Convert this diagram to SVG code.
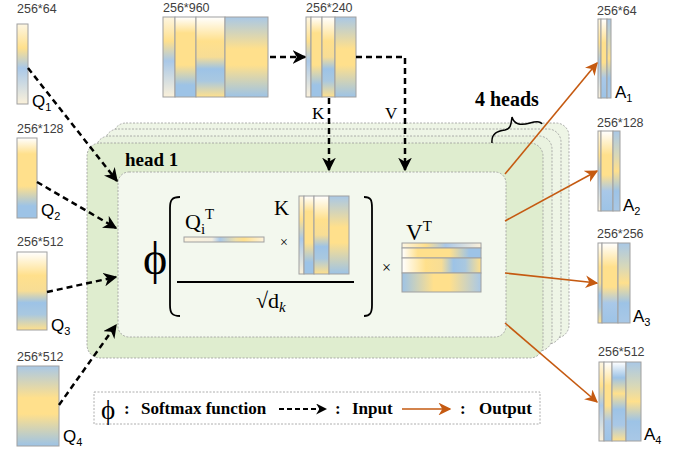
<svg xmlns="http://www.w3.org/2000/svg" width="684" height="453" viewBox="0 0 684 453">
<defs>
  <linearGradient id="g1" x1="0" y1="0" x2="0" y2="1">
    <stop offset="0" stop-color="#fdf6e3"/><stop offset="0.3" stop-color="#ffe08c"/><stop offset="0.55" stop-color="#a9c8e8"/><stop offset="1" stop-color="#fbf1da"/>
  </linearGradient>
  <linearGradient id="g2" x1="0" y1="0" x2="0" y2="1">
    <stop offset="0" stop-color="#ffffff"/><stop offset="0.2" stop-color="#ffe08c"/><stop offset="0.6" stop-color="#ffe08c"/><stop offset="0.85" stop-color="#9dc3e6"/><stop offset="1" stop-color="#9dc3e6"/>
  </linearGradient>
  <linearGradient id="g3" x1="0" y1="0" x2="0" y2="1">
    <stop offset="0" stop-color="#ffffff"/><stop offset="0.3" stop-color="#ffe08c"/><stop offset="0.5" stop-color="#f7dd95"/><stop offset="0.65" stop-color="#9dc3e6"/><stop offset="0.8" stop-color="#a9c8e0"/><stop offset="1" stop-color="#ffe08c"/>
  </linearGradient>
  <linearGradient id="g4" x1="0" y1="0" x2="0" y2="1">
    <stop offset="0" stop-color="#a9c8e6"/><stop offset="0.4" stop-color="#ffe08c"/><stop offset="0.6" stop-color="#ffe08c"/><stop offset="1" stop-color="#9dc3e6"/>
  </linearGradient>
  <linearGradient id="h1" href="#g1" x1="0" y1="0" x2="1" y2="0"/>
  <linearGradient id="h2" href="#g2" x1="0" y1="0" x2="1" y2="0"/>
  <linearGradient id="h3" href="#g3" x1="0" y1="0" x2="1" y2="0"/>
  <linearGradient id="h4" href="#g4" x1="1" y1="0" x2="0" y2="0"/>
  <linearGradient id="qbar" x1="0" y1="0" x2="1" y2="0">
    <stop offset="0" stop-color="#fdf3dc"/><stop offset="0.35" stop-color="#f3eee0"/><stop offset="0.45" stop-color="#a9c8e8"/><stop offset="0.65" stop-color="#f0e0a8"/><stop offset="0.75" stop-color="#ffe08c"/><stop offset="1" stop-color="#fdf3dc"/>
  </linearGradient>
  <linearGradient id="a1" x1="0" y1="0" x2="0" y2="1">
    <stop offset="0" stop-color="#ffffff"/><stop offset="0.3" stop-color="#ffe08c"/><stop offset="0.55" stop-color="#ffe08c"/><stop offset="0.75" stop-color="#a9c8e8"/><stop offset="1" stop-color="#9dc3e6"/>
  </linearGradient>
  <linearGradient id="a2" x1="0" y1="0" x2="0" y2="1">
    <stop offset="0" stop-color="#a9c8e6"/><stop offset="0.3" stop-color="#d8d8b8"/><stop offset="0.5" stop-color="#ffe08c"/><stop offset="0.75" stop-color="#9dc3e6"/><stop offset="1" stop-color="#a9c8e6"/>
  </linearGradient>
  <linearGradient id="a3" x1="0" y1="0" x2="0" y2="1">
    <stop offset="0" stop-color="#ffffff"/><stop offset="0.2" stop-color="#9dc3e6"/><stop offset="0.4" stop-color="#ffe08c"/><stop offset="0.6" stop-color="#9dc3e6"/><stop offset="0.8" stop-color="#a9c8e6"/><stop offset="1" stop-color="#ffe08c"/>
  </linearGradient>
  <marker id="ab" viewBox="0 0 10 10" refX="9" refY="5" markerWidth="5.5" markerHeight="5.5" orient="auto" markerUnits="strokeWidth">
    <path d="M0,0 L10,5 L0,10 L3,5 z" fill="#000"/>
  </marker>
  <marker id="ao" viewBox="0 0 10 10" refX="9" refY="5" markerWidth="8" markerHeight="8" orient="auto" markerUnits="strokeWidth">
    <path d="M0,0 L10,5 L0,10 L3,5 z" fill="#c55a11"/>
  </marker>
</defs>
<style>
  .dim{font-family:"Liberation Sans",Arial,sans-serif;font-size:12.5px;fill:#404040}
  .lab{font-family:"Liberation Sans",Arial,sans-serif;font-size:17px;fill:#000}
  .sub{font-size:11px}
  .ser{font-family:"Liberation Serif","Times New Roman",serif;fill:#000}
  .bold{font-weight:bold}
  .mx{stroke:#a0a0a0;stroke-width:1}
  .layer{stroke:#999;stroke-width:0.8;stroke-dasharray:2 1.5}
  .din{fill:none;stroke:#000;stroke-width:2.5;stroke-dasharray:6 4;marker-end:url(#ab)}
  .out{fill:none;stroke:#c55a11;stroke-width:1.6;marker-end:url(#ao)}
  .leg{font-size:17px}
</style>
<rect width="684" height="453" fill="#fff"/>

<g id="heads">
  <rect class="layer" x="113" y="123" width="456" height="215" rx="13" fill="#eef5e6"/>
  <rect class="layer" x="105" y="129" width="456" height="215" rx="13" fill="#eef5e6"/>
  <rect class="layer" x="96" y="136" width="456" height="215" rx="13" fill="#e9f2df"/>
  <rect class="layer" x="87" y="143" width="456" height="215" rx="13" fill="#dfedcf"/>
  <text class="ser bold" x="125" y="166" font-size="19">head 1</text>
  <rect class="layer" x="118" y="172" width="388" height="165" rx="11" fill="#f3f8ee"/>
</g>

<g id="formula">
  <text class="ser" x="143" y="274" font-size="46">ϕ</text>
  <path d="M180,197 C172,197 170,200 170,208 L170,305 C170,313 172,316 180,316" fill="none" stroke="#000" stroke-width="1.8"/>
  <path d="M364,197 C371,197 372,200 372,208 L372,305 C372,313 370,316 364,316" fill="none" stroke="#000" stroke-width="1.8"/>
  <text class="ser" x="185" y="229" font-size="22">Q<tspan font-size="15" dy="5">i</tspan><tspan font-size="15" dy="-15">T</tspan></text>
  <rect class="mx" x="184" y="237" width="80" height="5" fill="url(#qbar)"/>
  <text class="ser" x="280" y="247" font-size="14">×</text>
  <text class="ser" x="274" y="215" font-size="21">K</text>
  <g class="mx">
    <rect x="299" y="196" width="5" height="78" fill="url(#g1)"/>
    <rect x="304" y="196" width="10" height="78" fill="url(#g2)"/>
    <rect x="314" y="196" width="15" height="78" fill="url(#g3)"/>
    <rect x="329" y="196" width="20" height="78" fill="url(#g4)"/>
  </g>
  <line x1="177" y1="282" x2="354" y2="282" stroke="#000" stroke-width="1.8"/>
  <text class="ser" x="256" y="308" font-size="22">√d<tspan font-size="15" dy="4" font-style="italic">k</tspan></text>
  <text class="ser" x="382" y="273" font-size="16">×</text>
  <text class="ser" x="406" y="240" font-size="23">V<tspan font-size="15" dy="-9">T</tspan></text>
  <g class="mx">
    <rect x="402" y="243" width="79" height="5" fill="url(#h1)"/>
    <rect x="402" y="248" width="79" height="10" fill="url(#h2)"/>
    <rect x="402" y="258" width="79" height="15" fill="url(#h3)"/>
    <rect x="402" y="273" width="79" height="19" fill="url(#h4)"/>
  </g>
</g>

<g id="W960">
  <text class="dim" x="163" y="12">256*960</text>
  <g class="mx">
    <rect x="163" y="17" width="12" height="80" fill="url(#g1)"/>
    <rect x="175" y="17" width="21" height="80" fill="url(#g2)"/>
    <rect x="196" y="17" width="29" height="80" fill="url(#g3)"/>
    <rect x="225" y="17" width="43" height="80" fill="url(#g4)"/>
  </g>
</g>
<g id="W240">
  <text class="dim" x="306" y="12">256*240</text>
  <g class="mx">
    <rect x="306" y="17" width="5" height="80" fill="url(#g1)"/>
    <rect x="311" y="17" width="11" height="80" fill="url(#g2)"/>
    <rect x="322" y="17" width="13" height="80" fill="url(#g3)"/>
    <rect x="335" y="17" width="21" height="80" fill="url(#g4)"/>
  </g>
  <text class="ser" x="312" y="119" font-size="17">K</text>
  <text class="ser" x="385" y="119" font-size="17">V</text>
</g>

<g id="Q1">
  <text class="dim" x="17" y="13">256*64</text>
  <rect class="mx" x="17" y="24" width="11" height="80" fill="url(#g1)"/>
  <text class="lab" x="32" y="107">Q<tspan class="sub" dy="4">1</tspan></text>
</g>
<g id="Q2">
  <text class="dim" x="17" y="133">256*128</text>
  <rect class="mx" x="17" y="138" width="20" height="80" fill="url(#g2)"/>
  <text class="lab" x="41" y="216">Q<tspan class="sub" dy="4">2</tspan></text>
</g>
<g id="Q3">
  <text class="dim" x="17" y="246">256*512</text>
  <rect class="mx" x="17" y="252" width="30" height="78" fill="url(#g3)"/>
  <text class="lab" x="51" y="331">Q<tspan class="sub" dy="4">3</tspan></text>
</g>
<g id="Q4">
  <text class="dim" x="17" y="361">256*512</text>
  <rect class="mx" x="17" y="366" width="42" height="80" fill="url(#g4)"/>
  <text class="lab" x="63" y="442">Q<tspan class="sub" dy="4">4</tspan></text>
</g>

<g id="A1">
  <text class="dim" x="597" y="15">256*64</text>
  <g class="mx">
    <rect x="598" y="19" width="3" height="79" fill="url(#g1)"/>
    <rect x="601" y="19" width="6" height="79" fill="url(#a1)"/>
    <rect x="607" y="19" width="4" height="79" fill="url(#a2)"/>
  </g>
  <text class="lab" x="615" y="98">A<tspan class="sub" dy="4">1</tspan></text>
</g>
<g id="A2">
  <text class="dim" x="597" y="127">256*128</text>
  <g class="mx">
    <rect x="598" y="131" width="3" height="80" fill="url(#g1)"/>
    <rect x="601" y="131" width="12" height="80" fill="url(#a1)"/>
    <rect x="613" y="131" width="7" height="80" fill="url(#a2)"/>
  </g>
  <text class="lab" x="623" y="211">A<tspan class="sub" dy="4">2</tspan></text>
</g>
<g id="A3">
  <text class="dim" x="597" y="238">256*256</text>
  <g class="mx">
    <rect x="598" y="243" width="4" height="80" fill="url(#g3)"/>
    <rect x="602" y="243" width="16" height="80" fill="url(#a1)"/>
    <rect x="618" y="243" width="12" height="80" fill="url(#a2)"/>
  </g>
  <text class="lab" x="633" y="322">A<tspan class="sub" dy="4">3</tspan></text>
</g>
<g id="A4">
  <text class="dim" x="598" y="356">256*512</text>
  <g class="mx">
    <rect x="599" y="362" width="5" height="79" fill="url(#g1)"/>
    <rect x="604" y="362" width="8" height="79" fill="url(#a1)"/>
    <rect x="612" y="362" width="14" height="79" fill="url(#a3)"/>
    <rect x="626" y="362" width="15" height="79" fill="url(#a2)"/>
  </g>
  <text class="lab" x="644" y="440">A<tspan class="sub" dy="4">4</tspan></text>
</g>

<g id="heads-label">
  <text class="ser bold" x="475" y="106" font-size="20">4 heads</text>
  <path d="M492,143 C491,133 498,131 505,130 C511,129 511,124 512,117 C514,124 520,126 530,123 C537,121 541,122 542,124" fill="none" stroke="#000" stroke-width="1.5"/>
</g>

<g id="connectors">
  <line class="din" x1="270" y1="57" x2="305" y2="57"/>
  <polyline class="din" points="356,57 405,57 405,170"/>
  <line class="din" x1="329" y1="98" x2="329" y2="170"/>
  <line class="din" x1="28" y1="68" x2="117" y2="181"/>
  <line class="din" x1="37" y1="182" x2="116" y2="228"/>
  <line class="din" x1="47" y1="292" x2="116" y2="277"/>
  <line class="din" x1="59" y1="405" x2="116" y2="325"/>
  <line class="out" x1="505" y1="174" x2="597" y2="63"/>
  <line class="out" x1="505" y1="221" x2="597" y2="171"/>
  <line class="out" x1="505" y1="273" x2="597" y2="283"/>
  <line class="out" x1="505" y1="323" x2="597" y2="402"/>
</g>

<g id="legend">
  <rect x="94" y="392" width="446" height="32" fill="#fff" stroke="#999" stroke-width="0.8" stroke-dasharray="2 1.5"/>
  <text class="ser" x="101" y="419" font-size="27">ϕ</text>
  <text class="ser bold leg" x="124" y="414">:</text>
  <text class="ser bold leg" x="141" y="414">Softmax function</text>
  <line x1="279" y1="409" x2="326" y2="409" stroke="#000" stroke-width="2" stroke-dasharray="5 3" marker-end="url(#ab)"/>
  <text class="ser bold leg" x="335" y="414">:</text>
  <text class="ser bold leg" x="352" y="414">Input</text>
  <line class="out" x1="402" y1="409" x2="450" y2="409"/>
  <text class="ser bold leg" x="460" y="414">:</text>
  <text class="ser bold leg" x="479" y="414">Output</text>
</g>
</svg>
